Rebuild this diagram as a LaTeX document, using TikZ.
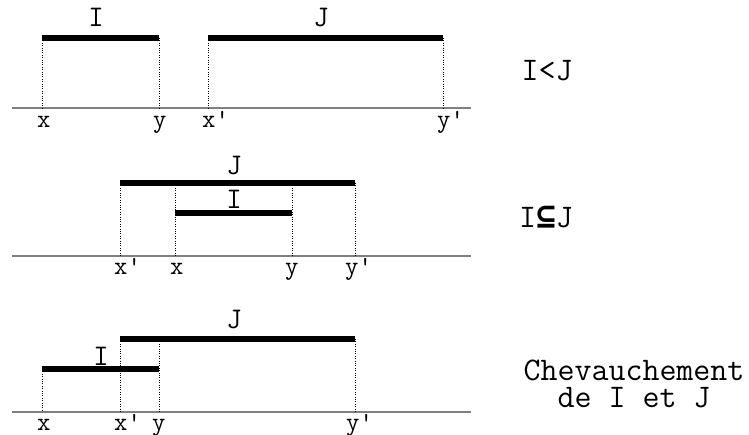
\documentclass[tikz,border=0pt]{standalone}
\usepackage{fontspec}
\newfontfamily\symfont{DejaVu Sans Mono}
\usetikzlibrary{positioning}

\begin{document}
\begin{tikzpicture}[x=1pt, y=-1pt,
      axis/.style={draw=gray, line width=1.6pt},
      bar/.style={draw, line width=6pt},
      guide/.style={draw, line width=0.8pt, dash pattern=on 1pt off 1.4pt},
      tick/.style={font=\ttfamily\fontsize{26}{26}\selectfont, inner sep=0pt, anchor=base west},
      lbl/.style={font=\ttfamily\fontsize{30}{30}\selectfont, inner sep=0pt, anchor=base},
      rel/.style={font=\ttfamily\fontsize{33}{33}\selectfont, inner sep=0pt, anchor=base},
    ]
    \useasboundingbox (0,0) rectangle (749,435);
    \coordinate (ax1) at (12,108);
    \coordinate (bx1) at (471,108);
    \coordinate (i1a) at (42,38);
    \coordinate (i1b) at (159,38);
    \coordinate (j1a) at (208,38);
    \coordinate (j1b) at (443,38);
    \draw[axis] (ax1) -- (bx1);
    \draw[bar] (i1a) -- (i1b);
    \draw[bar] (j1a) -- (j1b);
    \draw[guide] (i1a) -- (i1a |- ax1);
    \draw[guide] (i1b) -- (i1b |- ax1);
    \draw[guide] (j1a) -- (j1a |- ax1);
    \draw[guide] (j1b) -- (j1b |- ax1);
    \node[lbl] (nI1) at (96,27) {I};
    \node[lbl] (nJ1) at (321,27) {J};
    \node[tick] (tx1) at (37,128) {x};
    \node[tick] (ty1) at (153,128) {y};
    \node[tick] (txp1) at (202,128) {x'};
    \node[tick] (typ1) at (437,128) {y'};
    \node[rel] (r1) at (547,81) {I<J};

    \coordinate (ax2) at (12,256);
    \coordinate (bx2) at (471,256);
    \coordinate (j2a) at (120,183);
    \coordinate (j2b) at (355,183);
    \coordinate (i2a) at (175,213);
    \coordinate (i2b) at (292,213);
    \draw[axis] (ax2) -- (bx2);
    \draw[bar] (j2a) -- (j2b);
    \draw[bar] (i2a) -- (i2b);
    \draw[guide] (j2a) -- (j2a |- ax2);
    \draw[guide] (j2b) -- (j2b |- ax2);
    \draw[guide] (i2a |- j2a) -- (i2a |- ax2);
    \draw[guide] (i2b |- j2a) -- (i2b |- ax2);
    \node[lbl] (nJ2) at (234,175) {J};
    \node[lbl] (nI2) at (234,209) {I};
    \node[tick] (txp2) at (114,275) {x'};
    \node[tick] (tx2) at (170,275) {x};
    \node[tick] (ty2) at (285,275) {y};
    \node[tick] (typ2) at (345,275) {y'};
    \node[rel] (r2) at (546,228) {I{\symfont\bfseries ⊆}J};

    \coordinate (ax3) at (12,412);
    \coordinate (bx3) at (471,412);
    \coordinate (j3a) at (120,339);
    \coordinate (j3b) at (355,339);
    \coordinate (i3a) at (42,369);
    \coordinate (i3b) at (159,369);
    \draw[axis] (ax3) -- (bx3);
    \draw[bar] (j3a) -- (j3b);
    \draw[bar] (i3a) -- (i3b);
    \draw[guide] (i3a) -- (i3a |- ax3);
    \draw[guide] (j3a) -- (j3a |- ax3);
    \draw[guide] (i3b |- j3a) -- (i3b |- ax3);
    \draw[guide] (j3b) -- (j3b |- ax3);
    \node[lbl] (nJ3) at (234,329) {J};
    \node[lbl] (nI3) at (101,365) {I};
    \node[tick] (tx3) at (37,430) {x};
    \node[tick] (txp3) at (114,430) {x'};
    \node[tick] (ty3) at (152,430) {y};
    \node[tick] (typ3) at (346,430) {y'};
    \node[rel] (r3a) at (634,380) {Chevauchement};
    \node[rel, below=7pt of r3a] (r3b) {de I et J};
\end{tikzpicture}
\end{document}
